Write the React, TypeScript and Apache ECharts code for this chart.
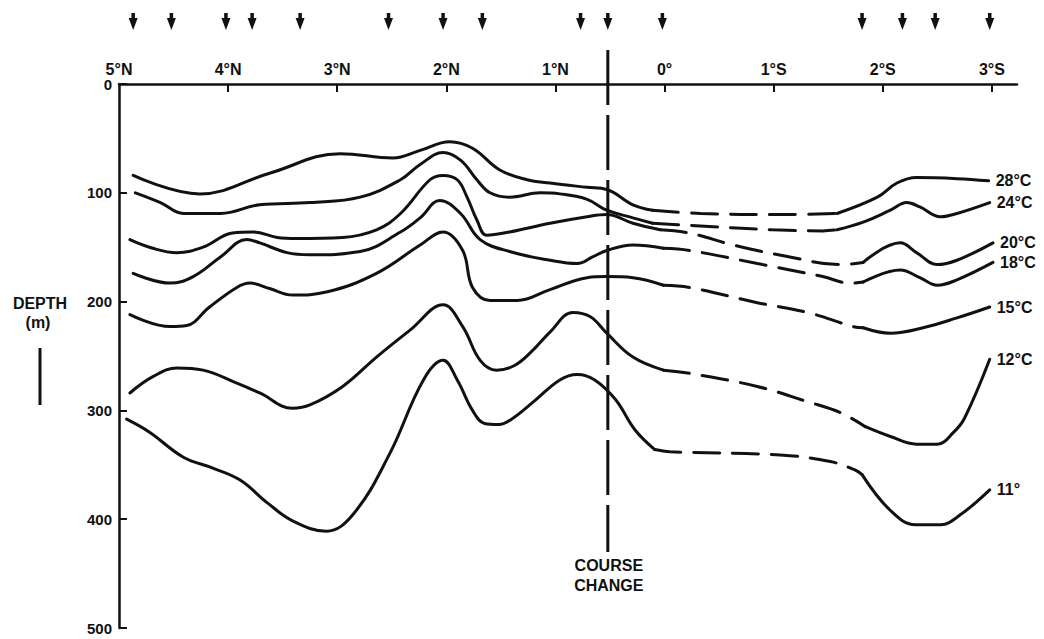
import React, { useEffect, useRef } from "react";
import * as echarts from "echarts";

// ---- data (latitude: + north, - south ; depth in m) ----
const latTicks = [5, 4, 3, 2, 1, 0, -1, -2, -3];
const stationLats = [4.87, 4.52, 4.02, 3.78, 3.34, 2.53, 2.03, 1.67, 0.77, 0.52, 0.02, -1.81, -2.18, -2.48, -2.98];
const courseChangeLat = [0.52];

const t28a = [[4.87,84],[4.26,101],[3.62,82],[2.97,64],[2.49,68],[2.24,61],[1.97,53],[1.76,59],[1.51,79],[1.26,88],[1.05,91],[0.71,95],[0.53,97],[0.29,111],[0.11,116]];
const t28b = [[0.11,116],[-0.33,119],[-1.06,120],[-1.58,119]];
const t28c = [[-1.58,119],[-1.95,104],[-2.13,91],[-2.31,86],[-2.68,87],[-2.97,89]];

const t24a = [[4.85,100],[4.62,109],[4.41,119],[4.07,119],[3.71,111],[3.25,109],[2.79,104],[2.42,88],[2.24,74],[2.03,63],[1.87,70],[1.72,88],[1.60,100],[1.42,104],[1.14,100],[0.96,101],[0.71,106],[0.53,116],[0.29,123],[0.11,128]];
const t24b = [[0.11,128],[-0.23,130],[-0.99,134],[-1.45,135],[-1.58,134]];
const t24c = [[-1.58,134],[-1.82,127],[-2.07,116],[-2.22,109],[-2.34,113],[-2.53,122],[-2.68,119],[-2.98,109]];

const t20a = [[4.90,143],[4.69,151],[4.47,155],[4.23,150],[3.96,137],[3.77,136],[3.55,141],[3.37,142],[2.95,141],[2.64,134],[2.42,119],[2.15,88],[2.03,84],[1.90,88],[1.81,104],[1.72,125],[1.63,139],[1.42,136],[1.05,128],[0.71,122],[0.53,120],[0.29,128],[0.04,134]];
const t20b = [[0.04,134],[-0.23,137],[-0.63,148],[-1.15,159],[-1.61,166],[-1.82,164]];
const t20c = [[-1.82,164],[-2.16,146],[-2.31,155],[-2.50,166],[-2.68,162],[-3.01,146]];

const t18a = [[4.87,174],[4.53,183],[4.32,177],[4.07,159],[3.83,143],[3.71,146],[3.46,155],[3.25,157],[2.79,154],[2.42,136],[2.24,123],[2.06,107],[1.87,119],[1.69,143],[1.42,154],[1.05,162],[0.80,165],[0.66,159],[0.53,153],[0.29,148],[0.01,151]];
const t18b = [[0.01,151],[-0.23,153],[-0.85,165],[-1.45,177],[-1.70,183],[-1.82,182]];
const t18c = [[-1.82,182],[-2.16,171],[-2.34,178],[-2.50,185],[-2.68,180],[-3.01,164]];

const t15a = [[4.90,212],[4.53,223],[4.38,222],[4.17,205],[3.92,187],[3.80,183],[3.62,188],[3.41,194],[3.09,191],[2.64,174],[2.24,148],[2.03,136],[1.85,153],[1.76,187],[1.60,199],[1.35,199],[1.05,189],[0.71,178],[0.53,177],[0.29,178],[0.01,185]];
const t15b = [[0.01,185],[-0.23,187],[-0.85,201],[-1.31,210],[-1.73,223],[-1.82,224]];
const t15c = [[-1.82,224],[-2.07,229],[-2.37,224],[-2.68,215],[-2.98,205]];

const t12a = [[4.90,284],[4.69,269],[4.47,261],[4.23,263],[3.92,275],[3.71,284],[3.41,298],[3.25,295],[2.95,278],[2.64,251],[2.33,226],[2.03,203],[1.85,223],[1.69,254],[1.54,263],[1.38,259],[1.22,246],[1.05,228],[0.84,210],[0.68,214],[0.53,229],[0.29,251],[0.01,263]];
const t12b = [[0.01,263],[-0.23,266],[-0.85,278],[-1.31,292],[-1.61,302],[-1.84,315]];
const t12c = [[-1.84,315],[-2.07,324],[-2.31,331],[-2.50,331],[-2.65,320],[-2.75,307],[-2.98,253]];

const t11a = [[4.93,308],[4.72,320],[4.41,343],[4.14,353],[3.89,364],[3.64,385],[3.40,402],[3.10,411],[2.85,395],[2.52,340],[2.21,272],[2.03,254],[1.90,272],[1.76,300],[1.65,312],[1.52,313],[1.40,308],[1.20,292],[0.96,272],[0.80,267],[0.64,272],[0.45,290],[0.27,318],[0.09,336]];
const t11b = [[0.09,336],[-0.05,338],[-1.06,341],[-1.52,347],[-1.75,355],[-1.81,359]];
const t11c = [[-1.81,359],[-2.07,392],[-2.30,405],[-2.53,405],[-2.71,396],[-2.98,373]];

const isotherms = [
  { name: "28°C", parts: [t28a, t28b, t28c] },
  { name: "24°C", parts: [t24a, t24b, t24c] },
  { name: "20°C", parts: [t20a, t20b, t20c] },
  { name: "18°C", parts: [t18a, t18b, t18c] },
  { name: "15°C", parts: [t15a, t15b, t15c] },
  { name: "12°C", parts: [t12a, t12b, t12c] },
  { name: "11°", parts: [t11a, t11b, t11c] },
];

const INK = "#111";
const FONT = "'Liberation Sans', Arial, sans-serif";

function latLabel(v: number) {
  if (v > 0) return `${v}°N`;
  if (v < 0) return `${-v}°S`;
  return "0°";
}

export default function App() {
  const ref = useRef<HTMLDivElement>(null);
  useEffect(() => {
    if (!ref.current) return;
    const chart = echarts.init(ref.current, null, { renderer: "svg" });
    const series: any[] = [];
    isotherms.forEach((iso) => {
      iso.parts.forEach((part, i) => {
        const dashed = i === 1;
        series.push({
          type: "line",
          name: iso.name,
          data: part,
          smooth: 0.4,
          showSymbol: false,
          symbol: "none",
          silent: true,
          lineStyle: {
            color: INK,
            width: 3,
            type: dashed ? [26, 13] : "solid",
            cap: "round",
          },
        });
      });
    });

    const option: any = {
      animation: false,
      backgroundColor: "#fff",
      grid: { left: 119, top: 84, right: 27, bottom: 11, containLabel: false },
      xAxis: {
        type: "value",
        position: "top",
        inverse: true,
        min: -3.23,
        max: 5,
        splitLine: { show: false },
        axisLine: { onZero: false, lineStyle: { color: INK, width: 2.5 } },
        axisTick: { show: true, inside: true, length: 8, lineStyle: { color: INK, width: 2 }, customValues: latTicks.filter((v) => v !== 5) },
        axisLabel: {
          customValues: latTicks,
          formatter: (v: number) => latLabel(v),
          color: INK,
          fontFamily: FONT,
          fontWeight: "bold",
          fontSize: 16,
          margin: 7,
        },
      },
      yAxis: {
        type: "value",
        inverse: true,
        min: 0,
        max: 500,
        interval: 100,
        splitLine: { show: false },
        axisLine: { onZero: false, lineStyle: { color: INK, width: 2.5 } },
        axisTick: { show: true, inside: true, length: 8, lineStyle: { color: INK, width: 2 } },
        axisLabel: {
          color: INK,
          fontFamily: FONT,
          fontWeight: "bold",
          fontSize: 15,
          margin: 7,
        },
      },
      series,
    };
    chart.setOption(option);

    const graphics: any[] = [];
    // isotherm labels at the end of each line
    isotherms.forEach((iso) => {
      const lastPart = iso.parts[iso.parts.length - 1];
      const lastPt = lastPart[lastPart.length - 1];
      const [px, py] = chart.convertToPixel({ gridIndex: 0 }, lastPt) as number[];
      graphics.push({
        type: "text",
        x: px + 7,
        y: py,
        style: { text: iso.name, fill: INK, font: `bold 16px ${FONT}`, align: "left", verticalAlign: "middle" },
        silent: true,
      });
    });
    stationLats.forEach((lat) => {
      const x = chart.convertToPixel({ xAxisIndex: 0 }, lat) as number;
      graphics.push({
        type: "rect",
        shape: { x: x - 1.75, y: 13, width: 3.5, height: 9 },
        style: { fill: INK },
        silent: true,
      });
      graphics.push({
        type: "polygon",
        shape: { points: [[x - 4.5, 18], [x + 4.5, 18], [x, 30]] },
        style: { fill: INK },
        silent: true,
      });
    });
    courseChangeLat.forEach((lat) => {
      const x = chart.convertToPixel({ xAxisIndex: 0 }, lat) as number;
      graphics.push({
        type: "line",
        shape: { x1: x, y1: 50, x2: x, y2: 552 },
        style: { stroke: INK, lineWidth: 3, lineDash: [55, 10] },
        silent: true,
      });
      graphics.push({
        type: "text",
        x: x + 1,
        y: 565,
        style: { text: "COURSE", fill: INK, font: `bold 16px ${FONT}`, align: "center", verticalAlign: "middle" },
        silent: true,
      });
      graphics.push({
        type: "text",
        x: x + 1,
        y: 585,
        style: { text: "CHANGE", fill: INK, font: `bold 16px ${FONT}`, align: "center", verticalAlign: "middle" },
        silent: true,
      });
    });
    graphics.push({
      type: "text",
      x: 40,
      y: 303,
      style: { text: "DEPTH", fill: INK, font: `bold 16px ${FONT}`, align: "center", verticalAlign: "middle" },
      silent: true,
    });
    graphics.push({
      type: "text",
      x: 38,
      y: 322,
      style: { text: "(m)", fill: INK, font: `bold 16px ${FONT}`, align: "center", verticalAlign: "middle" },
      silent: true,
    });
    graphics.push({
      type: "line",
      shape: { x1: 40, y1: 348, x2: 40, y2: 405 },
      style: { stroke: INK, lineWidth: 3 },
      silent: true,
    });
    chart.setOption({ graphic: graphics });

    return () => chart.dispose();
  }, []);
  return (
    <div
      ref={ref}
      style={{ position: "fixed", left: 0, top: 0, width: 1044, height: 639, background: "#fff" }}
    />
  );
}
